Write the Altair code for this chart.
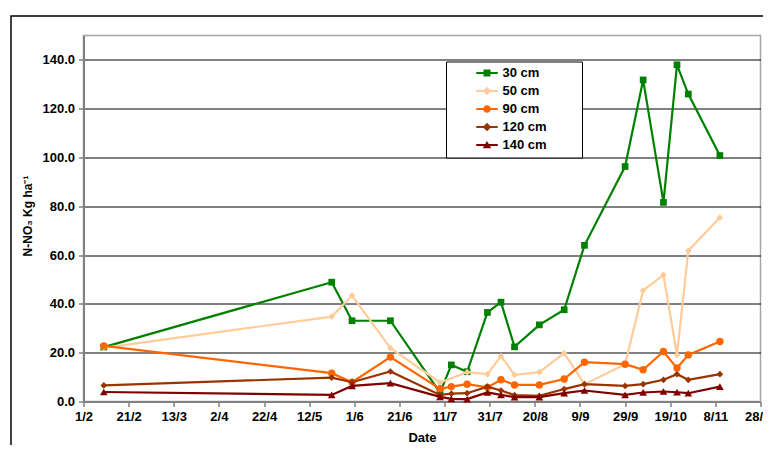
import altair as alt
import pandas as pd

YEAR = 2005

# sampling dates (month-day)
sample_dates = ["02-10", "05-22", "05-31", "06-17", "07-09", "07-14", "07-21",
                "07-30", "08-05", "08-11", "08-22", "09-02", "09-11", "09-29",
                "10-07", "10-16", "10-22", "10-27", "11-10"]

series_names = ["30 cm", "50 cm", "90 cm", "120 cm", "140 cm"]

n30 = [22.3, 48.9, 33.1, 33.1, 3.6, 15.0, 12.2, 36.5, 40.7, 22.4, 31.4, 37.6,
       64.0, 96.3, 131.8, 81.6, 138.0, 126.0, 100.8]
n50 = [22.0, 34.8, 43.4, 21.9, 7.8, None, 12.0, 11.2, 18.6, 10.9, 12.0, 19.8,
       7.0, 15.3, 45.5, 51.9, 19.1, 61.8, 75.4]
n90 = [22.8, 11.6, 7.9, 18.2, 5.2, 6.1, 7.1, 5.8, 8.9, 6.8, 6.8, 9.2,
       16.1, 15.3, 13.0, 20.5, 13.7, 19.1, 24.6]
n120 = [6.6, 9.8, 7.9, 12.3, 2.7, 3.2, 3.4, 6.1, 4.5, 2.6, 2.3, 5.1,
        7.1, 6.4, 7.1, 8.9, 11.2, 8.9, 11.2]
n140 = [3.9, 2.7, 6.4, 7.5, 1.9, 1.1, 1.0, 3.7, 2.7, 1.8, 1.8, 3.4,
        4.5, 2.7, 3.7, 4.1, 3.8, 3.4, 6.1]

x_tick_dates = ["02-01", "02-21", "03-13", "04-02", "04-22", "05-12", "06-01",
                "06-21", "07-11", "07-31", "08-20", "09-09", "09-29", "10-19",
                "11-08", "11-28"]
y_ticks = [0, 20, 40, 60, 80, 100, 120, 140]

# styles
colors = ["#008000", "#FFCC99", "#FF6600", "#993300", "#800000"]
marker_shapes = ["square", "diamond", "circle", "diamond", "triangle-up"]
marker_sizes = [45, 45, 55, 45, 60]

LINE = "M-2.15,-0.2 L2.15,-0.2 L2.15,0.2 L-2.15,0.2 Z "
legend_paths = [
    LINE + "M-0.7,-0.7 L0.7,-0.7 L0.7,0.7 L-0.7,0.7 Z",
    LINE + "M0,-0.85 L0.85,0 L0,0.85 L-0.85,0 Z",
    LINE + "M-0.75,0 A0.75,0.75 0 1,1 0.75,0 A0.75,0.75 0 1,1 -0.75,0 Z",
    LINE + "M0,-0.85 L0.85,0 L0,0.85 L-0.85,0 Z",
    LINE + "M0,-0.8 L0.85,0.65 L-0.85,0.65 Z",
]

rows = []
for name, vals in zip(series_names, [n30, n50, n90, n120, n140]):
    for md, v in zip(sample_dates, vals):
        if v is not None:
            rows.append({"date": f"{YEAR}-{md}", "series": name, "value": v})
df = pd.DataFrame(rows)


def dt(md):
    m, d = md.split("-")
    return alt.DateTime(year=YEAR, month=int(m), date=int(d), utc=True)


FONT = "Liberation Sans"

X = alt.X(
    "date:T",
    scale=alt.Scale(type="utc", domain=[dt(x_tick_dates[0]), dt(x_tick_dates[-1])]),
    axis=alt.Axis(
        values=[dt(t) for t in x_tick_dates], format="%-d/%-m", title="Date",
        grid=False, domainColor="#808080", domainWidth=2, tickColor="#808080",
        tickWidth=1.5, tickSize=5, labelPadding=4, labelFlush=False,
        labelOverlap=False, titleY=36, titleBaseline="middle",
    ),
)
Y = alt.Y(
    "value:Q",
    scale=alt.Scale(domain=[0, 150], nice=False),
    axis=alt.Axis(
        values=y_ticks, format=".1f", title="N-NO₃ Kg ha⁻¹",
        grid=True, gridColor="black", gridWidth=1,
        domainColor="#808080", domainWidth=2, tickColor="#808080",
        tickWidth=1.5, tickSize=5, labelPadding=4, labelFlush=False,
        titleAngle=270, titleX=-56.5, titleY=180, titleAlign="center",
        titleBaseline="middle", titleFontSize=12,
    ),
)

base = alt.Chart(df)

frame = alt.Chart(pd.DataFrame({"f": [0]})).mark_rect(
    fill="transparent", stroke="black", strokeWidth=1.5
).encode(x=alt.value(-72.5), x2=alt.value(760), y=alt.value(-19.5), y2=alt.value(470))

layers = [frame]
for name, c, shp, sz in zip(series_names, colors, marker_shapes, marker_sizes):
    sub = base.transform_filter(alt.datum.series == name)
    layers.append(sub.mark_line(color=c, strokeWidth=2.2).encode(x=X, y=Y))
    layers.append(
        sub.mark_point(filled=True, opacity=1, shape=shp, size=sz, color=c).encode(x=X, y=Y)
    )

PAD = "\u2800\u2800\u2800"
leg = alt.Legend(
    title=None, orient="none", legendX=362.5, legendY=26, direction="vertical",
    fillColor="white", strokeColor="black", padding=5,
    labelFont=FONT, labelFontSize=13, labelFontWeight="bold", labelColor="black",
    symbolSize=100, symbolOffset=29.5, labelOffset=9, rowPadding=4.0,
    symbolStrokeWidth=0, labelExpr=f"datum.label + '{PAD}'",
)
legend_layer = base.transform_filter("datum.value < 0").mark_point(
    filled=True, opacity=1
).encode(
    x=X, y=Y,
    color=alt.Color("series:N", scale=alt.Scale(domain=series_names, range=colors), legend=leg),
    shape=alt.Shape("series:N", scale=alt.Scale(domain=series_names, range=legend_paths), legend=leg),
)
layers.append(legend_layer)

chart = alt.layer(*layers).properties(
    width=677, height=366,
    padding={"left": 75.5, "top": 27.5, "right": 2.5, "bottom": 43},
    autosize=alt.AutoSizeParams(type="none"),
).configure_view(
    stroke="#a6a6a6", strokeWidth=1.5
).configure_axis(
    labelFont=FONT, labelFontSize=13, labelFontWeight="bold", labelColor="black",
    titleFont=FONT, titleFontSize=13, titleFontWeight="bold", titleColor="black",
).configure_legend(
    strokeWidth=1
)

chart.save("out.html", embed_options={"renderer": "svg", "actions": False})
